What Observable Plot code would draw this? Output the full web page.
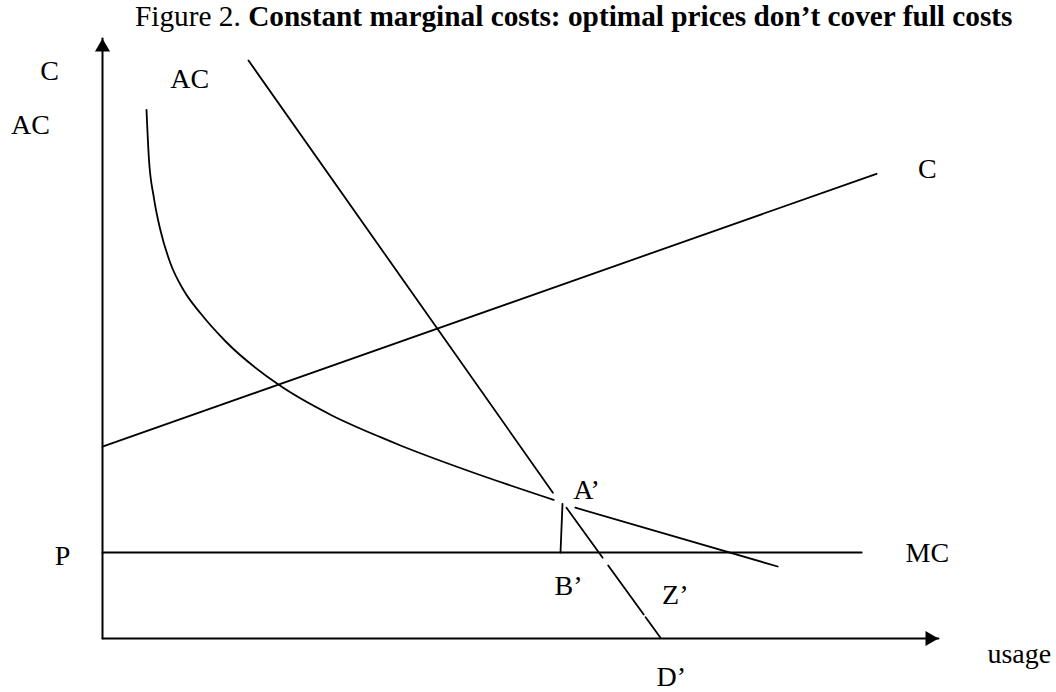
<!DOCTYPE html>
<html>
<head>
<meta charset="utf-8">
<script src="https://cdn.jsdelivr.net/npm/d3@7"></script>
<script src="https://cdn.jsdelivr.net/npm/@observablehq/plot@0.6"></script>
<style>
  html, body { margin: 0; padding: 0; background: #fff; }
  #wrap { position: relative; width: 1056px; height: 692px; }
  #title {
    position: absolute; left: 135px; top: 2px;
    font-family: "Liberation Serif", "Times New Roman", serif;
    font-size: 29.3px; line-height: 29px; white-space: nowrap; color: #000;
  }
  #title b { font-weight: bold; }
  #chart { position: absolute; left: 0; top: 0; }
</style>
</head>
<body>
<div id="wrap">
  <div id="chart"></div>
  <div id="title">Figure 2. <b>Constant marginal costs: optimal prices don’t cover full costs</b></div>
</div>
<script>
// Schematic cost curves: usage on x, cost on y (arbitrary units)

// Average cost curve falling towards the marginal cost level
const acCurve = [
  {u: 5.5, v: 88.1}, {u: 5.79, v: 80.2}, {u: 6.41, v: 73.55}, {u: 7.25, v: 68},
  {u: 8.5, v: 62.5}, {u: 10.16, v: 58}, {u: 12.25, v: 54.2}, {u: 15.4, v: 49.5},
  {u: 22.04, v: 42.28}, {u: 28.5, v: 37.3}, {u: 34.75, v: 33.55}, {u: 37.25, v: 32.17},
  {u: 45.6, v: 28}, {u: 56.4, v: 23.1}
];
const acTail = [{u: 59.1, v: 21.8}, {u: 84.4, v: 12}];

// Total cost line C
const costLine = [{u: 0, v: 31.98}, {u: 96.75, v: 77.45}];

// Marginal cost (price P)
const mcLine = [{u: 0, v: 14.33}, {u: 94.9, v: 14.33}];

// Demand line, drawn in pieces
const demand = [
  {seg: 1, u: 18.25, v: 96.33}, {seg: 1, u: 56.3, v: 24.3},
  {seg: 2, u: 58, v: 21.78}, {seg: 2, u: 62.52, v: 13.45},
  {seg: 3, u: 63.21, v: 12.17}, {seg: 3, u: 67.65, v: 4},
  {seg: 4, u: 67.89, v: 3.55}, {seg: 4, u: 69.75, v: 0.12}
];

// Drop from A' to B'
const dropAB = [{u: 57.5, v: 22.45}, {u: 57.25, v: 14.33}];

// Axes extents
const yAxisLine = [{u: 0, v: 0}, {u: 0, v: 100}];
const xAxisLine = [{u: 0, v: 0}, {u: 104.5, v: 0}];

// Labels
const labels = [
  {u: -6.6, v: 94.5, t: "C"},
  {u: -9, v: 85.5, t: "AC"},
  {u: 10.9, v: 93.3, t: "AC"},
  {u: 103.1, v: 78.2, t: "C"},
  {u: -5, v: 13.8, t: "P"},
  {u: 103.1, v: 14.2, t: "MC"},
  {u: 60.5, v: 24.8, t: "A’"},
  {u: 58.25, v: 8.8, t: "B’"},
  {u: 71.6, v: 7.3, t: "Z’"},
  {u: 114.6, v: -2.56, t: "usage"},
  {u: 71.1, v: -6.5, t: "D’"}
];

const sw = 1.8;
const chart = Plot.plot({
  width: 1056,
  height: 692,
  marginLeft: 102,
  marginRight: 118,
  marginTop: 38,
  marginBottom: 54,
  x: {domain: [0, 104.5], axis: null},
  y: {domain: [0, 100], axis: null},
  style: {fontFamily: "'Liberation Serif', 'Times New Roman', serif", background: "#fff", color: "#000"},
  marks: [
    Plot.line(yAxisLine, {x: "u", y: "v", stroke: "black", strokeWidth: 2}),
    Plot.line(xAxisLine, {x: "u", y: "v", stroke: "black", strokeWidth: 2}),
    Plot.dot([yAxisLine[1]], {x: "u", y: "v", symbol: "triangle", r: 5.6, fill: "black", stroke: "none", dy: 8.66}),
    Plot.dot([xAxisLine[1]], {x: "u", y: "v", symbol: "triangle", r: 5.6, fill: "black", stroke: "none", rotate: 90, dx: -8.66}),
    Plot.line(mcLine, {x: "u", y: "v", stroke: "black", strokeWidth: sw}),
    Plot.line(costLine, {x: "u", y: "v", stroke: "black", strokeWidth: sw}),
    Plot.line(acCurve, {x: "u", y: "v", stroke: "black", strokeWidth: sw, curve: "monotone-x"}),
    Plot.line(acTail, {x: "u", y: "v", stroke: "black", strokeWidth: sw}),
    Plot.line(demand, {x: "u", y: "v", z: "seg", stroke: "black", strokeWidth: sw}),
    Plot.line(dropAB, {x: "u", y: "v", stroke: "black", strokeWidth: sw}),
    Plot.text(labels, {x: "u", y: "v", text: "t", fontSize: 28, fill: "black"})
  ]
});
document.getElementById("chart").appendChild(chart);
</script>
</body>
</html>
